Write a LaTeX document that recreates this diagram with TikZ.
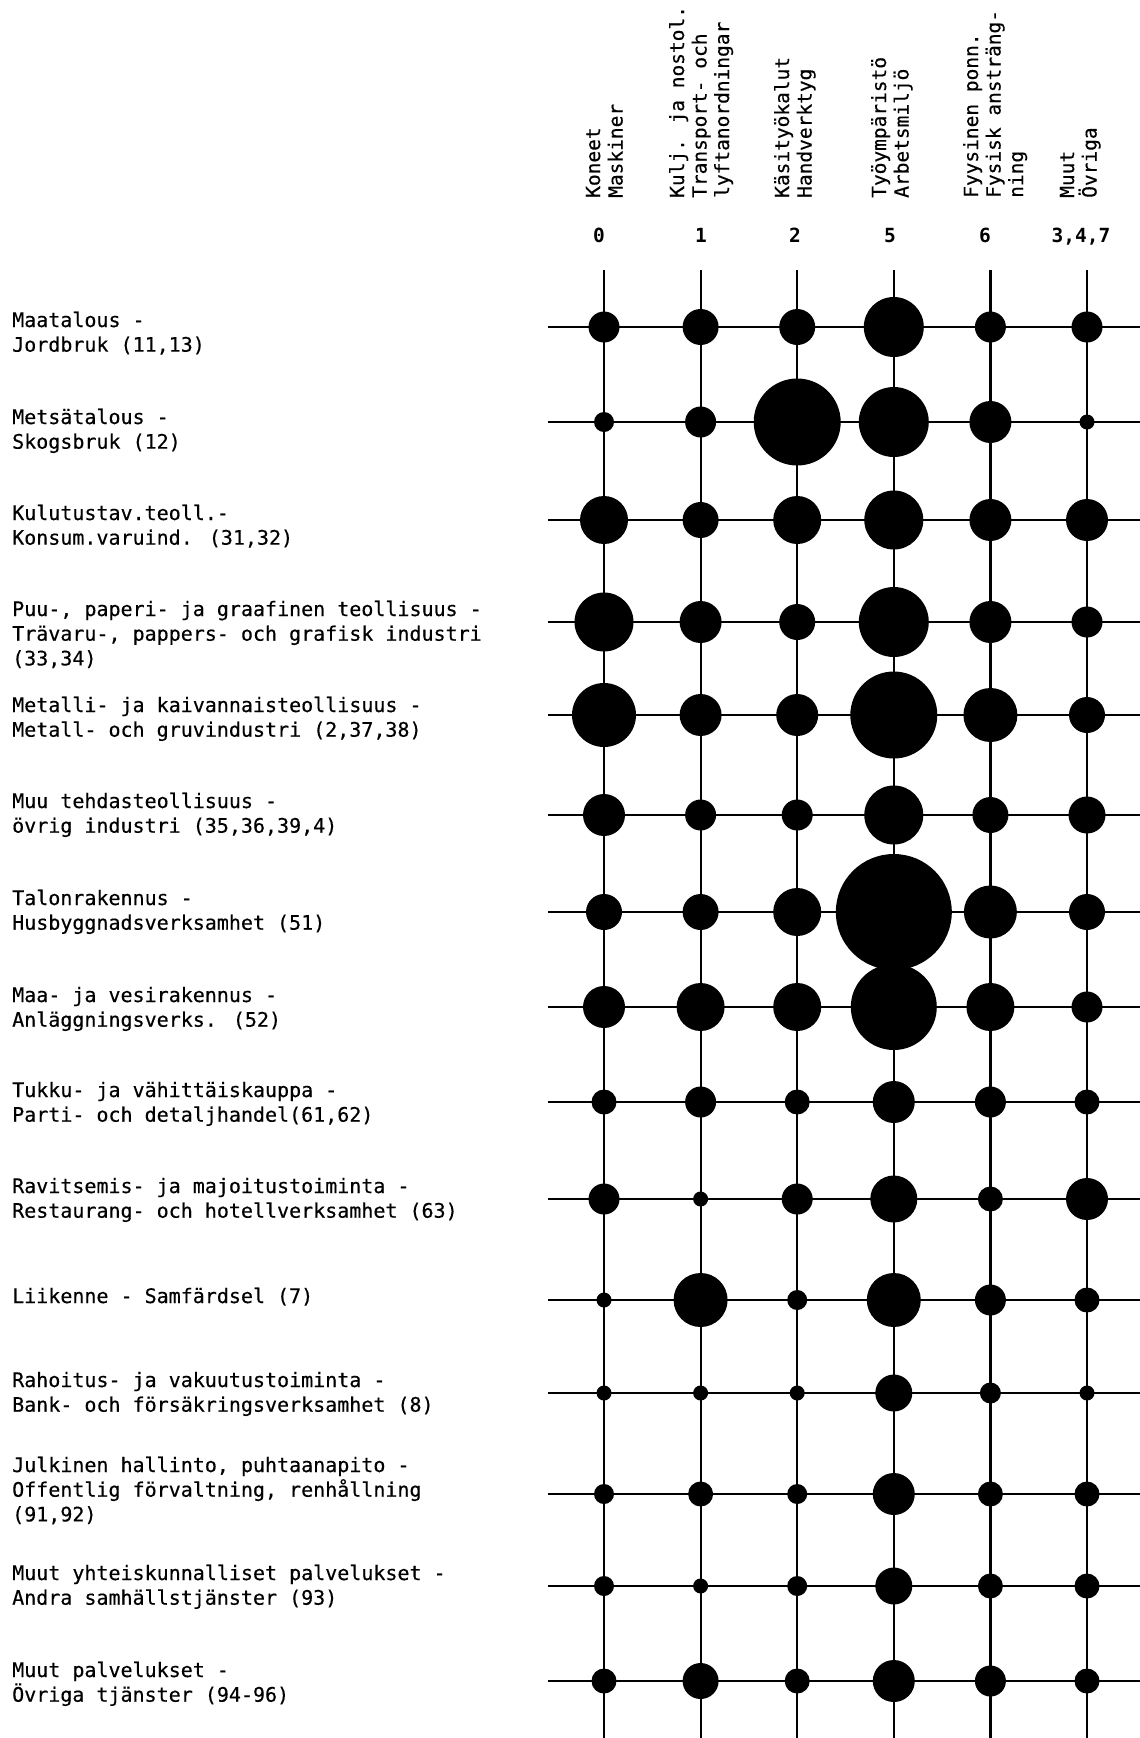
\documentclass[tikz,border=0pt]{standalone}
\usepackage{fontspec}
\newfontfamily\tw[FakeBold=0.4]{DejaVu Sans Mono}
\newfontfamily\twb{DejaVu Sans Mono Bold}
\newcommand\rowtxt[1]{\vtop{\halign{##\hfil\cr#1\crcr}}}
\begin{document}
\begin{tikzpicture}[x=1pt,y=-1pt,
  gridline/.style={line width=2.2pt},
  bub/.style={circle,fill=black,inner sep=0pt,minimum size=#1},
  lab/.style={anchor=base west,inner sep=0pt,font=\tw\fontsize{20}{24.7}\selectfont},
  head/.style={rotate=90,anchor=base west,inner sep=0pt,font=\tw\fontsize{19.5}{22.5}\selectfont},
  num/.style={anchor=base,inner sep=0pt,font=\twb\fontsize{19.5}{22}\selectfont}]
\useasboundingbox (0,0) rectangle (1140,1738);
\fill[white] (0,0) rectangle (1140,1738);

% grid lines
\foreach \y [count=\i] in {327,422,520,622,715,815,912,1007,1102,1199,1300,1393,1494,1586,1681}{
  \coordinate (hl\i) at (548,\y);
  \coordinate (hr\i) at (1140,\y);
  \draw[gridline] (hl\i) -- (hr\i);
}
\foreach \j in {1,...,6}{
  \coordinate (vt\j) at (507.4+96.6*\j,270);
  \coordinate (vb\j) at (507.4+96.6*\j,1738);
  \draw[gridline] (vt\j) -- (vb\j);
}

% bubbles
\foreach \y/\ds [count=\i] in {
  327/{31,36,36,60,31,31},
  422/{20,31,87,70,42,15},
  520/{48,36,48,59,42,42},
  622/{59,42,36,70,42,31},
  715/{64,42,42,87,54,36},
  815/{42,31,31,59,36,37},
  912/{36,36,48,116,53,36},
  1007/{42,48,48,86,48,31},
  1102/{25,31,25,42,31,25},
  1199/{31,15,31,47,25,42},
  1300/{15,54,20,54,31,25},
  1393/{15,15,15,37,21,15},
  1494/{20,25,20,42,25,25},
  1586/{20,15,20,37,25,25},
  1681/{25,36,25,42,31,25}}{
  \foreach \d [count=\j] in \ds {
    \node[bub=\d pt] (c\i-\j) at (507.4+96.6*\j,\y) {};
  }
}

% column headers
\node[head] (h1) at (600,198) {\rowtxt{Koneet\cr Maskiner}};
\node[head] (h2) at (684,198) {\rowtxt{Kulj. ja nostol.\cr Transport- och\cr lyftanordningar}};
\node[head] (h3) at (789,198) {\rowtxt{Käsityökalut\cr Handverktyg}};
\node[head] (h4) at (886,198) {\rowtxt{Työympäristö\cr Arbetsmiljö}};
\node[head] (h5) at (978,198) {\rowtxt{Fyysinen ponn.\cr Fysisk ansträng-\cr ning}};
\node[head] (h6) at (1074,198) {\rowtxt{Muut\cr Övriga}};

% column numbers
\node[num] (n1) at (599,242) {0};
\node[num] (n2) at (701,242) {1};
\node[num] (n3) at (795,242) {2};
\node[num] (n4) at (890,242) {5};
\node[num] (n5) at (985,242) {6};
\node[num] (n6) at (1081,242) {3,4,7};

% row labels
\node[lab] (r1) at (12,327) {\rowtxt{Maatalous -\cr Jordbruk (11,13)}};
\node[lab] (r2) at (12,424) {\rowtxt{Metsätalous -\cr Skogsbruk (12)}};
\node[lab] (r3) at (12,520) {\rowtxt{Kulutustav.teoll.-\cr Konsum.varuind. (31,32)}};
\node[lab] (r4) at (12,616) {\rowtxt{Puu-, paperi- ja graafinen teollisuus -\cr Trävaru-, pappers- och grafisk industri\cr (33,34)}};
\node[lab] (r5) at (12,712) {\rowtxt{Metalli- ja kaivannaisteollisuus -\cr Metall- och gruvindustri (2,37,38)}};
\node[lab] (r6) at (12,808) {\rowtxt{Muu tehdasteollisuus -\cr övrig industri (35,36,39,4)}};
\node[lab] (r7) at (12,905) {\rowtxt{Talonrakennus -\cr Husbyggnadsverksamhet (51)}};
\node[lab] (r8) at (12,1002) {\rowtxt{Maa- ja vesirakennus -\cr Anläggningsverks. (52)}};
\node[lab] (r9) at (12,1097) {\rowtxt{Tukku- ja vähittäiskauppa -\cr Parti- och detaljhandel(61,62)}};
\node[lab] (r10) at (12,1193) {\rowtxt{Ravitsemis- ja majoitustoiminta -\cr Restaurang- och hotellverksamhet (63)}};
\node[lab] (r11) at (12,1303) {\rowtxt{Liikenne - Samfärdsel (7)}};
\node[lab] (r12) at (12,1387) {\rowtxt{Rahoitus- ja vakuutustoiminta -\cr Bank- och försäkringsverksamhet (8)}};
\node[lab] (r13) at (12,1472) {\rowtxt{Julkinen hallinto, puhtaanapito -\cr Offentlig förvaltning, renhållning\cr (91,92)}};
\node[lab] (r14) at (12,1580) {\rowtxt{Muut yhteiskunnalliset palvelukset -\cr Andra samhällstjänster (93)}};
\node[lab] (r15) at (12,1677) {\rowtxt{Muut palvelukset -\cr Övriga tjänster (94-96)}};
\end{tikzpicture}
\end{document}
